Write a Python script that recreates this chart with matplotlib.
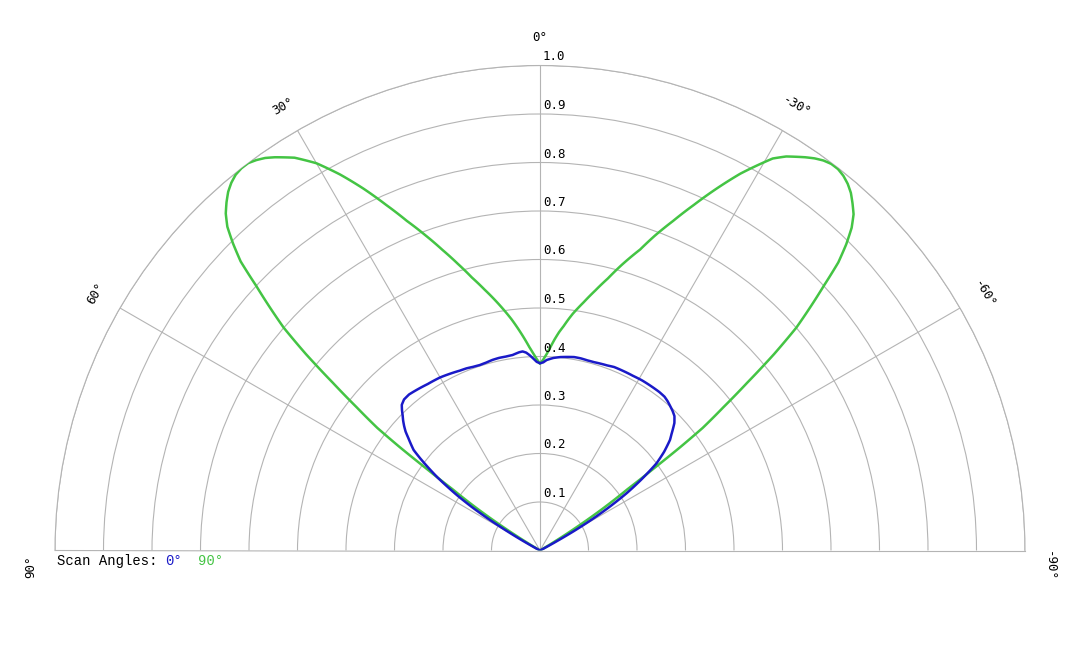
import numpy as np
import matplotlib
matplotlib.use("Agg")
import matplotlib.pyplot as plt

# pattern data, angle in degrees (positive = left side), normalised gain
blue_theta = [-90, -62, -61, -60.2, -59.1, -58, -56.5, -55, -53.2, -51.5, -49.6, -48.5, -47.5,
              -46.5, -45, -43.5, -42, -40.5, -39, -37, -34, -31, -28, -25, -22, -20, -18,
              -16, -14, -12, -10, -8, -6, -4, -2, -1, 0,
              1, 2, 3, 4, 5, 6, 7, 8, 10, 12, 14, 16, 18, 20, 22, 24, 26, 28, 30, 32, 34,
              36, 38, 40, 42, 43.5, 44.5, 45.5, 46.5, 47.5, 48.5, 49.5, 50.5, 51.5, 52.5,
              53.5, 54.5, 55.5, 56.3, 57.5, 58.6, 59.5, 60.5, 61.5, 90]
blue_r = [0, 0, 0.04, 0.08, 0.125, 0.165, 0.215, 0.255, 0.30, 0.327, 0.352, 0.362, 0.372,
          0.382, 0.392, 0.397, 0.401, 0.405, 0.408, 0.409, 0.409, 0.409, 0.408, 0.408, 0.408, 0.406, 0.405,
          0.404, 0.404, 0.405, 0.405, 0.403, 0.401, 0.398, 0.393, 0.388, 0.386,
          0.389, 0.396, 0.403, 0.409, 0.412, 0.411, 0.409, 0.407, 0.406, 0.406, 0.405, 0.403, 0.402, 0.403,
          0.405, 0.406, 0.408, 0.41, 0.412, 0.413, 0.414,
          0.416, 0.418, 0.42, 0.419, 0.414, 0.406, 0.397, 0.389, 0.38, 0.37, 0.357, 0.345, 0.333, 0.31,
          0.285, 0.26, 0.23, 0.206, 0.165, 0.121, 0.08, 0.04, 0, 0]

green_theta = [-90, -59.5, -58.5, -57.5, -56.3, -55, -54.2, -53.6, -53, -52, -51, -50, -49, -48,
               -47, -46, -45, -44, -43, -42, -41, -40, -39, -38, -37, -36, -35, -34, -32, -30.7,
               -28, -26, -25.2, -24, -22, -20, -18.4, -16, -14, -12, -10, -7.9, -7, -6, -5, -4, -3,
               -2, -1, 0,
               1, 2, 3, 4, 5, 6, 7, 8, 10, 12, 14, 16, 18, 20, 22, 24, 26, 28, 30, 32, 34,
               35, 36, 37, 38, 39, 40, 41, 42, 43, 44, 45, 46, 47, 48, 49, 50, 51, 52, 53,
               53.6, 54.2, 55, 56.3, 57.5, 58.5, 59.5, 90]
green_r = [0, 0, 0.04, 0.09, 0.155, 0.22, 0.29, 0.36, 0.42, 0.48, 0.55, 0.63, 0.70, 0.75,
           0.80, 0.855, 0.893, 0.925, 0.948, 0.963, 0.977, 0.987, 0.994, 0.998, 0.998, 0.994, 0.987, 0.978, 0.958, 0.94,
           0.88, 0.83, 0.81, 0.78, 0.733, 0.69, 0.654, 0.613, 0.578, 0.548, 0.52, 0.493, 0.48, 0.465, 0.452, 0.437,
           0.421, 0.406, 0.394, 0.385,
           0.395, 0.407, 0.42, 0.435, 0.45, 0.465, 0.48, 0.494, 0.522, 0.55, 0.58, 0.615, 0.652, 0.692, 0.733,
           0.78, 0.83, 0.878, 0.922, 0.955, 0.978,
           0.988, 0.995, 1.0, 1.0, 0.997, 0.99, 0.98, 0.966, 0.95, 0.928, 0.895, 0.858, 0.80, 0.75, 0.70, 0.63,
           0.55, 0.48, 0.42, 0.36, 0.29, 0.22, 0.155, 0.09, 0.04, 0, 0]

r_ticks = [0.1, 0.2, 0.3, 0.4, 0.5, 0.6, 0.7, 0.8, 0.9, 1.0]
r_labels = ["0.1", "0.2", "0.3", "0.4", "0.5", "0.6", "0.7", "0.8", "0.9", "1.0"]
angle_ticks = [90, 60, 30, 0, -30, -60, -90]
angle_labels = ["90°", "60°", "30°", "0°", "-30°", "-60°", "-90°"]
scan_labels = ["0°", "90°"]

blue = "#1a1ac8"
green = "#44c444"
grid = "#b4b4b4"

fig = plt.figure(figsize=(10.8, 6.48), dpi=100)
# the half disc is drawn centred in a square box, so make the box 970 px square
ax = fig.add_axes([55 / 1080, (648 - 793) / 648, 970 / 1080, 970 / 648], projection="polar")
ax.set_theta_zero_location("N")
ax.set_thetamin(-90)
ax.set_thetamax(90)
ax.set_rlim(0, 1.0)

ax.set_thetagrids([-60, -30, 0, 30, 60], labels=[])
ax.set_rgrids(r_ticks, labels=[])
ax.grid(True, color=grid, linewidth=0.8)
for s in ax.spines.values():
    s.set_color(grid)
    s.set_linewidth(0.8)
ax.tick_params(length=0)

lg, = ax.plot(np.deg2rad(green_theta), green_r, color=green, lw=1.8, zorder=3)
lb, = ax.plot(np.deg2rad(blue_theta), blue_r, color=blue, lw=1.8, zorder=4)
# draw segments along polar arcs instead of straight chords
for ln in (lg, lb):
    ln.get_path()._interpolation_steps = 10

# radial labels just right of the 0° line
for r, lab in zip(r_ticks, r_labels):
    ax.annotate(lab, (0, r), xytext=(3, 2), textcoords="offset pixels",
                ha="left", va="bottom", fontsize=9, family="DejaVu Sans Mono")

# angle labels around the outside, rotated with the angle
for a, lab in zip(angle_ticks, angle_labels):
    t = a
    rr = 1.058
    if abs(a) == 90:
        t = a + np.sign(a) * 1.8
        rr = 1.05
    ax.text(np.deg2rad(t), rr, lab, rotation=a, rotation_mode="anchor",
            ha="center", va="center", fontsize=9, family="DejaVu Sans Mono")

# legend text
ly = (648 - 561) / 648
fig.text(57 / 1080, ly, "Scan Angles:", fontsize=10, family="Liberation Mono", va="center")
fig.text(165 / 1080, ly, scan_labels[0], fontsize=10, family="Liberation Mono", va="center", color=blue)
fig.text(198 / 1080, ly, scan_labels[1], fontsize=10, family="Liberation Mono", va="center", color=green)

fig.savefig("out.png", dpi=100)
